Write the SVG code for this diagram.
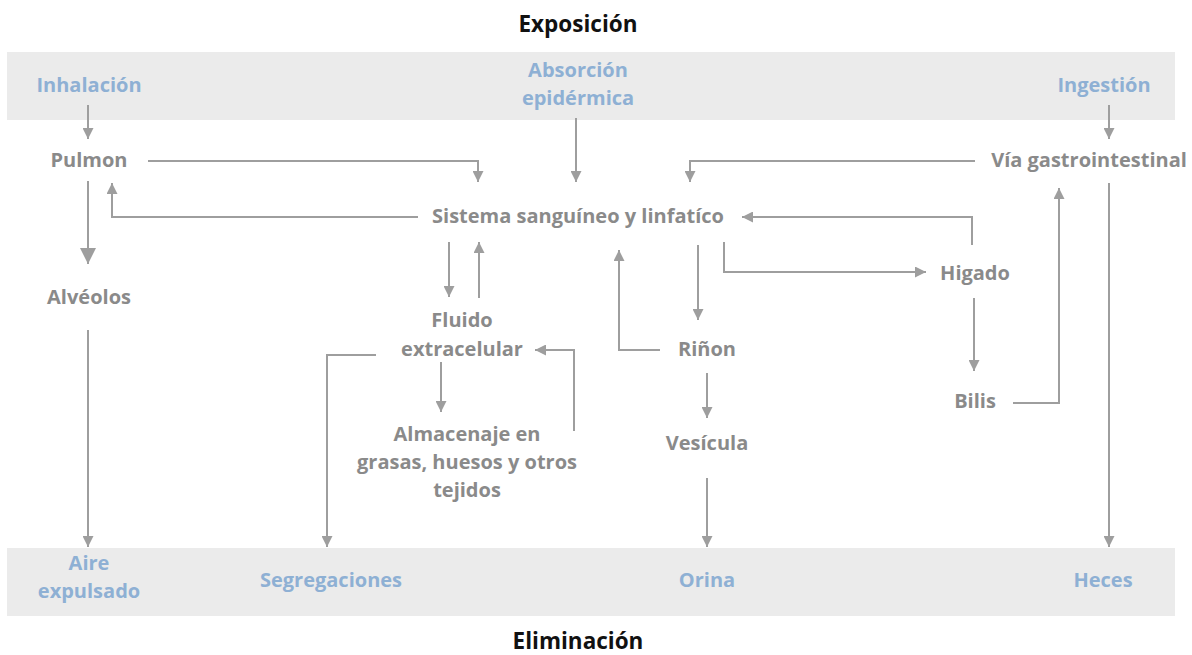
<svg xmlns="http://www.w3.org/2000/svg" width="1192" height="655" viewBox="0 0 1192 655">
<style>
  text { font-family: "Open Sans", "Liberation Sans", sans-serif; font-weight: bold; text-anchor: middle; }
  .n { fill: #8a8a8a; font-size: 20px; }
  .b { fill: #8eb0d4; font-size: 20px; }
  .t { fill: #111111; font-size: 22.5px; }
  .band { fill: #ebebeb; }
  .c { fill: none; stroke: #9e9e9e; stroke-width: 2; marker-end: url(#ah); }
  .cb { fill: none; stroke: #9e9e9e; stroke-width: 2; marker-end: url(#ahb); }
</style>
<defs>
  <marker id="ah" viewBox="0 0 10 10" refX="10" refY="5" markerWidth="5.5" markerHeight="5.5" orient="auto" markerUnits="strokeWidth">
    <path d="M0,0 L10,5 L0,10 Z" fill="#9e9e9e"/>
  </marker>
  <marker id="ahb" viewBox="0 0 10 10" refX="10" refY="5" markerWidth="8" markerHeight="8.5" orient="auto" markerUnits="strokeWidth">
    <path d="M0,0 L10,5 L0,10 Z" fill="#9e9e9e"/>
  </marker>
</defs>
<rect class="band" x="7" y="52" width="1168" height="68"/>
<rect class="band" x="7" y="548" width="1168" height="68"/>
<text class="t" x="578" y="32">Exposición</text>
<text class="t" x="578" y="649">Eliminación</text>

<g id="connectors">
  <path class="c" d="M88,105 V139"/>
  <path class="cb" d="M88,181 V264"/>
  <path class="c" d="M148,161 H478 V182"/>
  <path class="c" d="M418,217 H112 V183"/>
  <path class="c" d="M576,118 V182"/>
  <path class="c" d="M975,161 H690 V182"/>
  <path class="c" d="M1109,105 V139"/>
  <path class="c" d="M1109,183 V547"/>
  <path class="c" d="M1013,403 H1059 V188"/>
  <path class="c" d="M972,245 V217 H742"/>
  <path class="c" d="M724,242 V272 H926"/>
  <path class="c" d="M974,298 V371"/>
  <path class="c" d="M449,242 V297"/>
  <path class="c" d="M479,298 V242"/>
  <path class="c" d="M660,350 H619 V250"/>
  <path class="c" d="M698,245 V320"/>
  <path class="c" d="M707,373 V418"/>
  <path class="c" d="M574,431 V350 H535"/>
  <path class="c" d="M441,362 V412"/>
  <path class="c" d="M376,355 H327 V547"/>
  <path class="c" d="M88,330 V547"/>
  <path class="c" d="M707,478 V547"/>
</g>

<g id="inhalacion"><text class="b" x="89" y="92">Inhalación</text></g>
<g id="absorcion"><text class="b" x="578" y="77">Absorción</text><text class="b" x="578" y="105">epidérmica</text></g>
<g id="ingestion"><text class="b" x="1104" y="92">Ingestión</text></g>
<g id="pulmon"><text class="n" x="89" y="167">Pulmon</text></g>
<g id="via"><text class="n" x="1089" y="167">Vía gastrointestinal</text></g>
<g id="sistema"><text class="n" x="578" y="223">Sistema sanguíneo y linfatíco</text></g>
<g id="alveolos"><text class="n" x="89" y="304">Alvéolos</text></g>
<g id="higado"><text class="n" x="975" y="280">Higado</text></g>
<g id="fluido"><text class="n" x="462" y="327">Fluido</text><text class="n" x="462" y="356">extracelular</text></g>
<g id="rinon"><text class="n" x="707" y="356">Riñon</text></g>
<g id="bilis"><text class="n" x="975" y="408">Bilis</text></g>
<g id="almacenaje"><text class="n" x="467" y="441">Almacenaje en</text><text class="n" x="467" y="469">grasas, huesos y otros</text><text class="n" x="467" y="497">tejidos</text></g>
<g id="vesicula"><text class="n" x="707" y="450">Vesícula</text></g>
<g id="aire"><text class="b" x="89" y="570">Aire</text><text class="b" x="89" y="598">expulsado</text></g>
<g id="segregaciones"><text class="b" x="331" y="587">Segregaciones</text></g>
<g id="orina"><text class="b" x="707" y="587">Orina</text></g>
<g id="heces"><text class="b" x="1103" y="587">Heces</text></g>
</svg>
